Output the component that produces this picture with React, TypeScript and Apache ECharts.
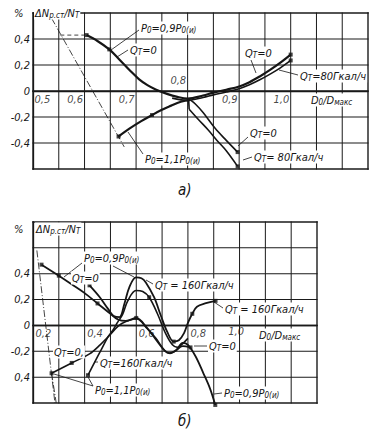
import { useEffect, useRef } from 'react';
import * as echarts from 'echarts';

// ---------- chart а) (top) ----------
const topXRange = [0.5, 1.15];
const topYRange = [-0.6, 0.6];
const topXGrid = [0.5, 0.55, 0.6, 0.65, 0.7, 0.75, 0.8, 0.85, 0.9, 0.95, 1.0, 1.05, 1.1, 1.15];
const topYGrid = [-0.6, -0.4, -0.2, 0, 0.2, 0.4, 0.6];
const topXTicks = [0.5, 0.6, 0.7, 0.8, 0.9, 1.0];
const topXTickLabels = ['0,5', '0,6', '0,7', '0,8', '0,9', '1,0'];
const topP09Q0 = [[0.604, 0.43], [0.625, 0.385], [0.648, 0.32], [0.667, 0.245], [0.69, 0.15], [0.706, 0.09], [0.722, 0.045], [0.738, 0.012], [0.76, -0.022], [0.78, -0.045], [0.8, -0.058], [0.83, -0.035], [0.85, -0.012], [0.875, 0.01], [0.9, 0.035], [0.92, 0.068], [0.94, 0.112], [0.96, 0.162], [0.98, 0.218], [1.0, 0.28]];
const topP09Q80 = [[0.77, -0.055], [0.8, -0.072], [0.83, -0.05], [0.85, -0.03], [0.875, -0.008], [0.9, 0.018], [0.92, 0.048], [0.94, 0.086], [0.96, 0.13], [0.98, 0.178], [1.0, 0.235]];
const topP11Rise = [[0.666, -0.35], [0.687, -0.29], [0.71, -0.232], [0.731, -0.185], [0.75, -0.145], [0.765, -0.118], [0.78, -0.092], [0.795, -0.075], [0.806, -0.068]];
const topP11Q0 = [[0.806, -0.07], [0.815, -0.1], [0.83, -0.165], [0.853, -0.285], [0.875, -0.38], [0.897, -0.47]];
const topP11Q80 = [[0.803, -0.14], [0.82, -0.215], [0.84, -0.3], [0.857, -0.38], [0.875, -0.46], [0.897, -0.58]];
const topBracket = [[0.802, -0.065], [0.803, -0.14]];
const topLimit = [[0.536, 0.56], [0.677, -0.43]];
const topGuide = [[0.553, 0.43], [0.604, 0.43]];
const topMarks = [[0.604, 0.43], [0.666, -0.35], [1.0, 0.28], [1.0, 0.235], [0.897, -0.47], [0.897, -0.58], [0.648, 0.32], [0.731, -0.185]];

// ---------- chart б) (bottom) ----------
const botXRange = [0.2, 1.3];
const botYRange = [-0.6, 0.8];
const botXGrid = [0.2, 0.3, 0.4, 0.5, 0.6, 0.7, 0.8, 0.9, 1.0, 1.1, 1.2, 1.3];
const botYGrid = [-0.6, -0.4, -0.2, 0, 0.2, 0.4, 0.6, 0.8];
const botXTicks = [0.2, 0.4, 0.6, 0.8, 1.0];
const botXTickLabels = ['0,2', '0,4', '0,6', '0,8', '1,0'];
const botP09Q0 = [[0.233, 0.47], [0.3, 0.385], [0.35, 0.318], [0.4, 0.25], [0.45, 0.17], [0.5, 0.09], [0.53, 0.045], [0.56, 0.035], [0.6, 0.058], [0.64, -0.015], [0.68, -0.12], [0.71, -0.195], [0.73, -0.215], [0.755, -0.19], [0.78, -0.135], [0.8, -0.15], [0.83, -0.24], [0.86, -0.37], [0.885, -0.485], [0.906, -0.615]];
const botP09Q160 = [[0.419, 0.31], [0.458, 0.22], [0.49, 0.13], [0.515, 0.07], [0.535, 0.065], [0.554, 0.167], [0.573, 0.295], [0.599, 0.372], [0.62, 0.365], [0.637, 0.333], [0.669, 0.218], [0.695, 0.077], [0.72, -0.05], [0.745, -0.125], [0.765, -0.115], [0.785, -0.06], [0.8, 0.02], [0.817, 0.09], [0.835, 0.145], [0.87, 0.172], [0.907, 0.19]];
const botP11Q160 = [[0.413, -0.385], [0.44, -0.28], [0.465, -0.185], [0.49, -0.09], [0.51, -0.035], [0.528, 0.025], [0.547, 0.085], [0.567, 0.19], [0.599, 0.27], [0.625, 0.262], [0.65, 0.218], [0.682, 0.09], [0.714, -0.064], [0.74, -0.15], [0.76, -0.17], [0.78, -0.14], [0.8, -0.1]];
const botP11Q0 = [[0.272, -0.37], [0.35, -0.29], [0.419, -0.22], [0.46, -0.15], [0.496, -0.077], [0.53, -0.005], [0.56, 0.03], [0.6, 0.052], [0.643, -0.026], [0.676, -0.1], [0.708, -0.19], [0.727, -0.215], [0.75, -0.2], [0.78, -0.16], [0.81, -0.17]];
const botLimitA = [[0.215, 0.58], [0.285, -0.6]];
const botLimitB = [[0.272, -0.37], [0.29, -0.6]];
const botMarks = [[0.233, 0.47], [0.419, 0.31], [0.413, -0.385], [0.272, -0.37], [0.907, 0.19], [0.906, -0.615], [0.81, -0.17], [0.3, 0.385], [0.45, 0.17], [0.35, -0.29], [0.6, 0.058], [0.65, 0.218], [0.745, -0.125], [0.817, 0.09]];

// y tick labels
const topYLabels: Record<string, string> = { '0.4': '0,4', '0.2': '0,2', '0': '0', '-0.2': '-0,2', '-0.4': '-0,4' };
const botYLabels: Record<string, string> = { '0.4': '0,4', '0.2': '0,2', '0': '0', '-0.2': '-0,2', '-0.4': '0,4' };

const FONT = "'Liberation Sans Narrow', 'DejaVu Sans Condensed', 'Liberation Sans', 'DejaVu Sans', sans-serif";
const INK = '#151515';

const RICH = {
  s: { fontSize: 8, fontFamily: FONT, fontStyle: 'italic', fill: INK, color: INK, verticalAlign: 'bottom', lineHeight: 8 },
};

function txt(x: number, y: number, text: string, extra: any = {}) {
  return {
    type: 'text', x, y, z: 100,
    style: {
      text, fill: INK, fontSize: 11, fontFamily: FONT, fontStyle: 'italic',
      align: 'left', verticalAlign: 'middle', lineHeight: 13, rich: RICH,
      backgroundColor: '#fff', padding: [0, 1, 0, 1], ...extra,
    },
  };
}
function ln(x1: number, y1: number, x2: number, y2: number) {
  return { type: 'line', z: 90, shape: { x1, y1, x2, y2 }, style: { stroke: INK, lineWidth: 0.8 } };
}

const key1 = (v: number) => String(Math.round(v * 10) / 10);

const annotations = [
  // ---- top chart ----
  txt(13, 13, '%'),
  txt(34, 13, 'ΔN{s|р.ст}/N{s|Т}'),
  ln(139, 30, 111, 50), txt(140, 28, 'P{s|0}=0,9P{s|0(и)}'),
  ln(128, 50, 117, 57), txt(129, 50, 'Q{s|Т}=0'),
  ln(143, 154, 128, 132), txt(144, 159, 'P{s|0}=1,1P{s|0(и)}'),
  ln(251, 60, 256, 73), txt(244, 53, 'Q{s|Т}=0'),
  ln(298, 75, 279, 70), txt(299, 76, 'Q{s|Т}=80Гкал/ч'),
  ln(248, 137, 238, 146), txt(249, 133, 'Q{s|Т}=0'),
  ln(252, 157, 243, 160), txt(253, 157, 'Q{s|Т}= 80Гкал/ч'),
  txt(310, 100, 'D{s|0}/D{s|макс}'),
  txt(177, 190, 'а)', { fontSize: 15, backgroundColor: 'transparent' }),
  // ---- bottom chart ----
  txt(13, 229, '%'),
  txt(35, 229, 'ΔN{s|р.ст}/N{s|Т}'),
  ln(82, 263, 64, 277), ln(113, 266, 134, 277), txt(83, 258, 'P{s|0}=0,9P{s|0(и)}'),
  txt(71, 278, 'Q{s|Т}=0'),
  ln(153, 284, 146, 280), txt(154, 285, 'Q{s|Т} = 160Гкал/ч'),
  ln(223, 308, 214, 302), txt(224, 309, 'Q{s|Т} = 160Гкал/ч'),
  txt(258, 335, 'D{s|0}/D{s|макс}'),
  ln(207, 346, 194, 346), txt(208, 346, 'Q{s|Т}=0'),
  txt(53, 352, 'Q{s|Т}=0,'),
  ln(98, 362, 94, 362), txt(99, 363, 'Q{s|Т}=160Гкал/ч'),
  ln(93, 386, 54, 374), ln(93, 386, 88, 377), txt(94, 390, 'P{s|0}=1,1P{s|0(и)}'),
  ln(222, 393, 214, 394), txt(223, 393, 'P{s|0}=0,9P{s|0(и)}'),
  txt(177, 421, 'б)', { fontSize: 15, backgroundColor: 'transparent' }),
];

// grid lines as thin filled rectangles from a custom series (kind 0 = vertical, 1 = horizontal)
function gridCustom(xs: number[], ys: number[], xr: number[], yr: number[], xi: number) {
  const data = [
    ...xs.map((v, i) => [v, yr[0], 0, i === 0 || i === xs.length - 1 ? 1.4 : 1]),
    ...ys.map((v, i) => [xr[0], v, 1, i === 0 || i === ys.length - 1 || v === 0 ? 1.4 : 1]),
  ];
  return {
    type: 'custom', xAxisIndex: xi, yAxisIndex: xi, clip: false, z: 3, silent: true,
    data,
    renderItem: (_params: any, api: any) => {
      const v0 = api.value(0);
      const v1 = api.value(1);
      const kind = api.value(2);
      const w = api.value(3);
      if (kind === 0) {
        const a = api.coord([v0, yr[1]]);
        const b = api.coord([v0, yr[0]]);
        return { type: 'rect', shape: { x: a[0] - w / 2, y: a[1] - w / 2, width: w, height: b[1] - a[1] + w }, style: { fill: '#1a1a1a' } };
      }
      const a = api.coord([xr[0], v1]);
      const b = api.coord([xr[1], v1]);
      return { type: 'rect', shape: { x: a[0] - w / 2, y: a[1] - w / 2, width: b[0] - a[0] + w, height: w }, style: { fill: '#1a1a1a' } };
    },
  };
}

function buildOption() {
  const axisText = { color: INK, fontFamily: FONT, fontStyle: 'italic', fontSize: 11 };
  const thick = (data: number[][], xi: number, w = 2.2, extra: any = {}) => ({
    type: 'line', xAxisIndex: xi, yAxisIndex: xi, data, smooth: 0.35, symbol: 'none', clip: false,
    lineStyle: { color: INK, width: w }, z: 5, ...extra,
  });
  const thin = (data: number[][], xi: number, dash: any) => ({
    type: 'line', xAxisIndex: xi, yAxisIndex: xi, data, smooth: false, symbol: 'none', clip: false,
    lineStyle: { color: INK, width: 0.8, type: dash }, z: 4,
  });
  const marks = (data: number[][], xi: number) => ({
    type: 'scatter', xAxisIndex: xi, yAxisIndex: xi, data, symbol: 'rect', symbolSize: 4, clip: false,
    itemStyle: { color: INK }, z: 6,
  });
  const tickLabels = (ticks: number[], labels: string[], xi: number, align: string, special: Record<number, any>) => ({
    type: 'scatter', xAxisIndex: xi, yAxisIndex: xi, symbol: 'circle', symbolSize: 1, clip: false, z: 7,
    itemStyle: { color: 'rgba(0,0,0,0)' },
    data: ticks.map((v, i) => ({
      value: [v, 0],
      label: {
        show: true, formatter: labels[i], ...axisText,
        align, verticalAlign: 'top',
        position: align === 'right' ? [-1, 3] : [3, 3],
        ...(special[i] || {}),
      },
    })),
  });
  const axisBase = { axisTick: { show: false }, splitLine: { show: false } };
  return {
    animation: false,
    grid: [
      { left: 33, top: 13, width: 335, height: 156, show: false, containLabel: false },
      { left: 33, top: 222, width: 284, height: 181, show: false, containLabel: false },
    ],
    xAxis: [
      {
        gridIndex: 0, type: 'value', min: topXRange[0], max: topXRange[1], interval: 0.05, ...axisBase,
        axisLine: { show: true, onZero: true, lineStyle: { color: INK, width: 1.3 } },
        axisLabel: { show: false },
      },
      {
        gridIndex: 1, type: 'value', min: botXRange[0], max: botXRange[1], interval: 0.1, ...axisBase,
        axisLine: { show: true, onZero: true, lineStyle: { color: INK, width: 1.3 } },
        axisLabel: { show: false },
      },
    ],
    yAxis: [
      {
        gridIndex: 0, type: 'value', min: topYRange[0], max: topYRange[1], interval: 0.2, ...axisBase,
        axisLine: { show: true, onZero: false, lineStyle: { color: INK, width: 1.3 } },
        axisLabel: { ...axisText, margin: 3, formatter: (v: number) => topYLabels[key1(v)] || '' },
      },
      {
        gridIndex: 1, type: 'value', min: botYRange[0], max: botYRange[1], interval: 0.2, ...axisBase,
        axisLine: { show: true, onZero: false, lineStyle: { color: INK, width: 1.3 } },
        axisLabel: { ...axisText, margin: 3, formatter: (v: number) => botYLabels[key1(v)] || '' },
      },
    ],
    series: [
      gridCustom(topXGrid, topYGrid, topXRange, topYRange, 0),
      thick(topP09Q0, 0, 2.2),
      thick(topP09Q80, 0, 1.6),
      thick(topP11Rise, 0, 2.2),
      thick(topP11Q0, 0, 1.6),
      thick(topP11Q80, 0, 1.6),
      thick(topBracket, 0, 1.6, { smooth: false }),
      thin(topLimit, 0, [7, 2, 1, 2]),
      thin(topGuide, 0, [4, 3]),
      marks(topMarks, 0),
      tickLabels(topXTicks, topXTickLabels, 0, 'right', {
        0: { align: 'left', position: [2, 3] },
        3: { position: [-1, -16] },
      }),
      gridCustom(botXGrid, botYGrid, botXRange, botYRange, 1),
      thick(botP09Q0, 1, 1.8),
      thick(botP09Q160, 1, 1.8),
      thick(botP11Q160, 1, 1.6),
      thick(botP11Q0, 1, 1.6),
      thin(botLimitA, 1, [7, 2, 1, 2]),
      thin(botLimitB, 1, [7, 2, 1, 2]),
      marks(botMarks, 1),
      tickLabels(botXTicks, botXTickLabels, 1, 'left', {
        4: { align: 'right', position: [5, 1] },
      }),
    ],
    graphic: annotations,
  };
}

export default function App() {
  const ref = useRef<HTMLDivElement>(null);
  useEffect(() => {
    if (!ref.current) return;
    const chart = echarts.init(ref.current, null, { renderer: 'svg' });
    chart.setOption(buildOption() as any);
    return () => chart.dispose();
  }, []);
  return (
    <div
      ref={ref}
      style={{ position: 'fixed', left: 0, top: 0, width: 382, height: 439, background: '#fff' }}
    />
  );
}
